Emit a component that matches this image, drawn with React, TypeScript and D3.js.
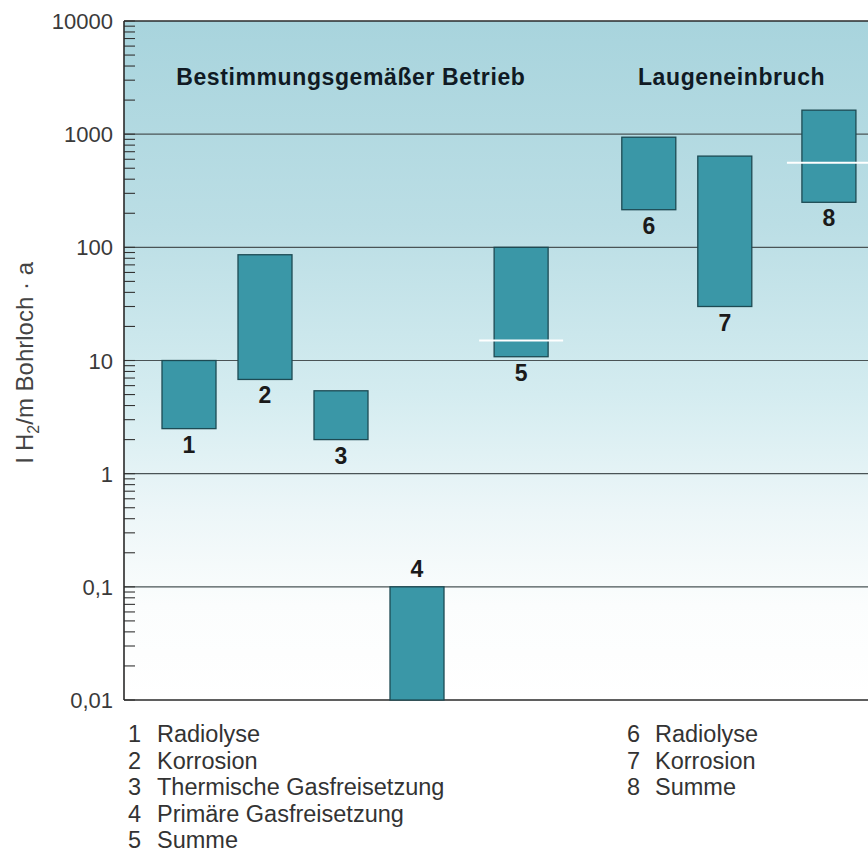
import { useRef, useEffect } from "react";
import * as d3 from "d3";

const barIds = [1, 2, 3, 4, 5, 6, 7, 8];
const barSlots = [0, 1, 2, 3, 4.37, 6.05, 7.05, 8.42];
const barLow = [2.5, 6.8, 2.0, 0.01, 10.8, 215, 30, 250];
const barHigh = [10, 86, 5.4, 0.1, 100, 940, 640, 1630];
const sumIds = [5, 8];
const sumValues = [15, 560];
const yTicks = [10000, 1000, 100, 10, 1, 0.1, 0.01];
const groupTitles = ["Bestimmungsgemäßer Betrieb", "Laugeneinbruch"];
const groupSlots = [2.13, 7.14];
const legendLeft = ["Radiolyse", "Korrosion", "Thermische Gasfreisetzung", "Primäre Gasfreisetzung", "Summe"];
const legendRight = ["Radiolyse", "Korrosion", "Summe"];

export default function App() {
  const ref = useRef<SVGSVGElement>(null);

  useEffect(() => {
    if (!ref.current) return;
    d3.select(ref.current).selectAll("*").remove();

    const W = 868,
      H = 852;
    const L = 124,
      T = 21,
      B = 700,
      BW = 54;
    const font = "'Liberation Sans', Arial, Helvetica, sans-serif";
    const s = d3.select(ref.current).attr("width", W).attr("height", H).attr("font-family", font);

    const y = d3.scaleLog().domain([0.01, 10000]).range([B, T]);
    const x = d3.scaleLinear().domain([0, 8]).range([189, 797]);
    const fmt = d3.formatLocale({ decimal: ",", thousands: "", grouping: [3], currency: ["", ""] }).format("~g");

    const grad = s
      .append("defs")
      .append("linearGradient")
      .attr("id", "bg")
      .attr("x1", 0)
      .attr("y1", 0)
      .attr("x2", 0)
      .attr("y2", 1);
    [
      [0, "#a8d4dd"],
      [0.3, "#bbdee5"],
      [0.55, "#d4ecf0"],
      [0.72, "#ecf6f8"],
      [0.86, "#fbfdfd"],
      [1, "#ffffff"],
    ].forEach(([o, c]) => grad.append("stop").attr("offset", o).attr("stop-color", c));

    s.append("rect")
      .attr("x", L)
      .attr("y", T)
      .attr("width", W - L)
      .attr("height", B - T)
      .attr("fill", "url(#bg)");

    // decade grid lines
    s.append("g")
      .selectAll("line")
      .data(yTicks)
      .join("line")
      .attr("x1", L)
      .attr("x2", W)
      .attr("y1", (d) => y(d))
      .attr("y2", (d) => y(d))
      .attr("stroke", (d) => (d === 10000 || d === 0.01 ? "#2a2a2a" : "#4a5456"))
      .attr("stroke-width", (d) => (d === 10000 || d === 0.01 ? 1.6 : 1.1));

    // minor ticks, inward
    s.append("g")
      .selectAll("line")
      .data(y.ticks())
      .join("line")
      .attr("x1", L)
      .attr("x2", L + 11)
      .attr("y1", (d) => y(d))
      .attr("y2", (d) => y(d))
      .attr("stroke", "#333")
      .attr("stroke-width", 1.1);

    s.append("line")
      .attr("x1", L)
      .attr("x2", L)
      .attr("y1", T)
      .attr("y2", B)
      .attr("stroke", "#2a2a2a")
      .attr("stroke-width", 1.6);

    s.append("g")
      .selectAll("text")
      .data(yTicks)
      .join("text")
      .attr("x", L - 11)
      .attr("y", (d) => y(d) + 8)
      .attr("text-anchor", "end")
      .attr("font-size", 22)
      .attr("fill", "#3a3a3a")
      .text((d) => fmt(d));

    const yl = s
      .append("text")
      .attr("transform", `translate(33,${(T + B) / 2 + 2}) rotate(-90)`)
      .attr("text-anchor", "middle")
      .attr("font-size", 24)
      .attr("fill", "#444");
    yl.append("tspan").text("l H");
    yl.append("tspan").attr("font-size", 16).attr("dy", 6).text("2");
    yl.append("tspan").attr("dy", -6).text("/m Bohrloch · a");

    // bars
    const bars = barIds.map((id, i) => ({ id, slot: barSlots[i], lo: barLow[i], hi: barHigh[i] }));
    s.append("g")
      .selectAll("rect")
      .data(bars)
      .join("rect")
      .attr("x", (d) => x(d.slot) - BW / 2)
      .attr("y", (d) => y(d.hi))
      .attr("width", BW)
      .attr("height", (d) => y(d.lo) - y(d.hi))
      .attr("fill", "#3a97a7")
      .attr("stroke", "#1d4a53")
      .attr("stroke-width", 1.3);

    // sum markers
    s.append("g")
      .selectAll("line")
      .data(sumIds.map((id, i) => ({ slot: barSlots[barIds.indexOf(id)], v: sumValues[i] })))
      .join("line")
      .attr("x1", (d) => x(d.slot) - BW / 2 - 15)
      .attr("x2", (d) => x(d.slot) + BW / 2 + 15)
      .attr("y1", (d) => y(d.v))
      .attr("y2", (d) => y(d.v))
      .attr("stroke", "#ffffff")
      .attr("stroke-width", 2);

    // bar numbers
    s.append("g")
      .selectAll("text")
      .data(bars)
      .join("text")
      .attr("x", (d) => x(d.slot))
      .attr("y", (d) => (d.id === 4 ? y(d.hi) - 10 : y(d.lo) + 24))
      .attr("text-anchor", "middle")
      .attr("font-size", 23)
      .attr("font-weight", 700)
      .attr("fill", "#1a1a1a")
      .text((d) => d.id);

    s.append("g")
      .selectAll("text")
      .data(groupTitles)
      .join("text")
      .attr("x", (d, i) => x(groupSlots[i]))
      .attr("y", 85)
      .attr("text-anchor", "middle")
      .attr("font-size", 23)
      .attr("font-weight", 700)
      .attr("letter-spacing", 0.6)
      .attr("fill", "#101a24")
      .text((d) => d);

    const legend = (items: string[], start: number, nx: number, tx: number) => {
      const g = s.append("g").attr("font-size", 23.5).attr("fill", "#333");
      items.forEach((t, i) => {
        const yy = 742 + i * 26.5;
        g.append("text").attr("x", nx).attr("y", yy).text(start + i);
        g.append("text").attr("x", tx).attr("y", yy).text(t);
      });
    };
    legend(legendLeft, 1, 128, 157);
    legend(legendRight, 6, 627, 655);
  }, []);

  return <svg ref={ref} style={{ display: "block", position: "absolute", left: 0, top: 0 }} />;
}
